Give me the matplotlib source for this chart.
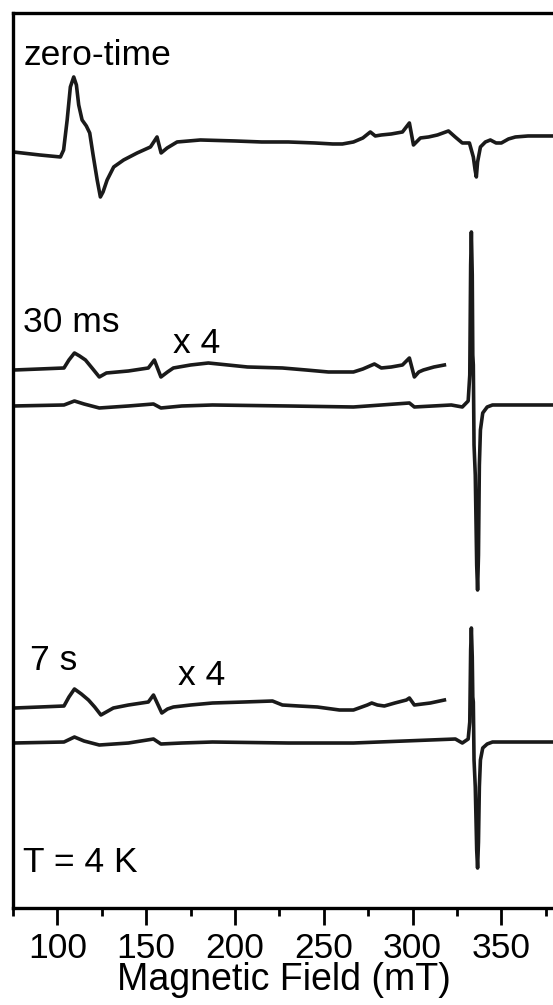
import numpy as np
import matplotlib
matplotlib.use("Agg")
import matplotlib.pyplot as plt

plt.rcParams['font.family'] = ['Liberation Sans', 'DejaVu Sans']

# field (mT) / signal (arb. units, relative to each trace's own baseline)
field_zero = [75.2, 90.0, 101.7, 103.5, 105.5, 107.3, 109.2, 110.7, 112.0, 113.9,
              116.3, 118.2, 120.1, 122.4, 124.2, 125.7, 128.0, 131.7, 137.3, 144.9,
              152.4, 156.1, 158.4, 161.8, 167.4, 180.5, 200.0, 215.0, 230.0, 245.0,
              255.0, 260.5, 266.7, 272.0, 276.2, 279.0, 282.4, 288.0, 294.3, 298.2,
              300.5, 304.4, 309.0, 314.0, 320.2, 324.0, 328.0, 332.0, 334.2, 335.2,
              335.9, 336.6, 338.2, 341.0, 343.8, 347.0, 350.0, 354.0, 357.9, 365.0,
              380.0]
sig_zero = [-10, -13, -15, -8, 22, 55, 65, 57, 37, 22,
            16, 9, -13, -38, -55, -50, -38, -25, -18, -11,
            -5, 5, -11, -6, 0, 2, 1, 0, 0, -1,
            -2, -2, 0, 4, 10, 6, 7, 8, 10, 19,
            -3, 4, 5, 7, 11, 5, -1, -1, -15, -28,
            -35, -20, -5, 0, 2, -1, -1, 3, 5, 6,
            6]

field_30ms_x4 = [75.8, 90.0, 103.7, 106.5, 109.6, 112.5, 115.8, 119.5, 123.6, 127.6,
                 140.0, 151.2, 154.6, 158.3, 162.0, 165.3, 175.0, 185.0, 196.0, 207.0,
                 226.7, 240.0, 252.6, 266.7, 272.0, 278.5, 282.4, 288.0, 294.3, 298.2,
                 301.0, 303.5, 306.1, 312.0, 317.9]
sig_30ms_x4 = [-2, -1, 0, 8, 15, 12, 8, 0, -9, -5,
               -3, 0, 8, -9, -4, 0, 3, 5, 3, 1,
               0, -2, -4, -4, -1, 4, 0, 1, 3, 10,
               -9, -4, -2, 1, 3]

field_30ms = [75.2, 103.7, 109.6, 115.0, 123.6, 140.0, 154.1, 158.3, 170.0, 187.3,
              230.0, 266.7, 298.2, 301.0, 321.8, 328.0, 331.3, 332.2, 332.7, 333.1,
              333.6, 333.9, 334.2, 334.6, 335.3, 336.1, 336.6, 337.1, 337.6, 338.2,
              339.5, 342.0, 345.0, 380.0]
sig_30ms = [-1, 0, 4, 1, -3, -1, 1, -3, -1, 0,
            -1, -2, 2, -2, 0, -2, 4, 30, 140, 173,
            130, 50, 40, -40, -70, -160, -185, -150, -60, -25,
            -8, -2, 0, 0]

field_7s_x4 = [75.8, 90.0, 103.7, 106.5, 109.6, 113.5, 117.5, 121.0, 124.5, 131.5,
               140.0, 151.2, 154.1, 158.8, 162.0, 165.3, 175.0, 187.3, 205.0, 221.1,
               226.7, 236.0, 246.4, 258.8, 266.7, 274.5, 277.0, 280.2, 284.1, 290.0,
               296.5, 298.2, 301.0, 310.0, 317.9]
sig_7s_x4 = [-1, 0, 1, 10, 18, 13, 7, 0, -8, -1,
             2, 5, 12, -6, -2, 0, 2, 4, 5, 6,
             2, 1, 0, -3, -3, 2, 4, 2, 1, 4,
             7, 9, 2, 4, 7]

field_7s = [75.2, 103.7, 109.6, 115.0, 123.6, 140.0, 154.1, 158.3, 170.0, 187.3,
            230.0, 266.7, 324.1, 328.0, 331.3, 332.2, 332.7, 333.1, 333.6, 333.9,
            334.2, 334.6, 335.3, 336.1, 336.6, 337.1, 337.6, 338.2, 339.5, 342.0,
            345.0, 380.0]
sig_7s = [-1, 0, 5, 1, -3, -1, 3, -2, -1, 0,
          -1, -1, 3, -1, 3, 20, 92, 114, 85, 45,
          40, -18, -45, -108, -126, -100, -45, -18, -6, -2,
          0, 0]

# vertical offsets of the stacked traces
offsets = {"zero": 766, "30ms_x4": 540, "30ms": 503, "7s_x4": 201, "7s": 166}

fig = plt.figure(figsize=(5.53, 10.05), dpi=100)
ax = fig.add_axes([0.0235, 0.0965, 0.9795, 0.8901])

lw = 2.6
ink = "#1a1a1a"
ax.plot(field_zero, np.array(sig_zero) + offsets["zero"], color=ink, lw=lw)
ax.plot(field_30ms_x4, np.array(sig_30ms_x4) + offsets["30ms_x4"], color=ink, lw=lw)
ax.plot(field_30ms, np.array(sig_30ms) + offsets["30ms"], color=ink, lw=lw)
ax.plot(field_7s_x4, np.array(sig_7s_x4) + offsets["7s_x4"], color=ink, lw=lw)
ax.plot(field_7s, np.array(sig_7s) + offsets["7s"], color=ink, lw=lw)

fs = 25.5
ax.text(80.9, 843, "zero-time", fontsize=fs, va="baseline", ha="left")
ax.text(80.9, 576, "30 ms", fontsize=fs, va="baseline", ha="left")
ax.text(165.3, 555, "x 4", fontsize=fs, va="baseline", ha="left")
ax.text(84.8, 238, "7 s", fontsize=fs, va="baseline", ha="left")
ax.text(168.1, 223, "x 4", fontsize=fs, va="baseline", ha="left")
ax.text(80.9, 36, "T = 4 K", fontsize=fs, va="baseline", ha="left")

ax.set_xlim(75, 380)
ax.set_ylim(0, 894.5)
ax.set_xticks([100, 150, 200, 250, 300, 350])
ax.set_xticks([75, 125, 175, 225, 275, 325, 375], minor=True)
ax.set_yticks([])
ax.tick_params(axis="x", which="major", direction="out", length=12, width=2, labelsize=fs, pad=5)
ax.tick_params(axis="x", which="minor", direction="out", length=6, width=2)
ax.set_xlabel("Magnetic Field (mT)", fontsize=27, labelpad=-2)

for side in ["left", "top", "bottom"]:
    ax.spines[side].set_linewidth(2.4)
ax.spines["right"].set_visible(False)

plt.savefig("out.png", dpi=100)
